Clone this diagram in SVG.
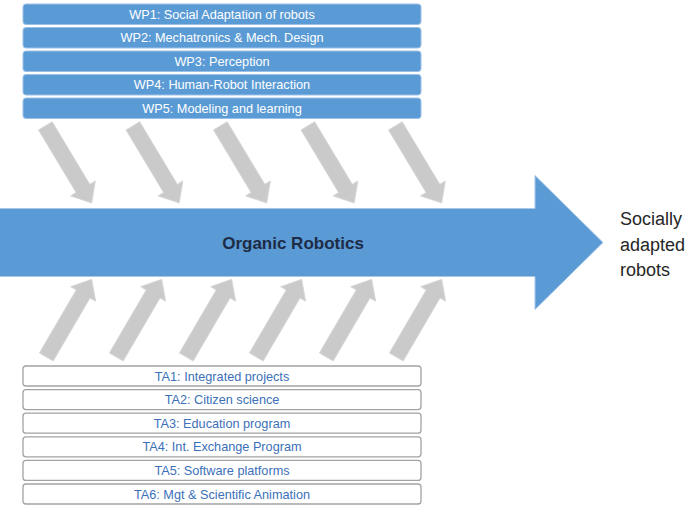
<svg xmlns="http://www.w3.org/2000/svg" xmlns:xlink="http://www.w3.org/1999/xlink" width="696" height="508" viewBox="0 0 696 508">
  <style>
    .wp rect { fill: #5b9bd5; stroke: #9cc0e6; stroke-width: 1; }
    .wp text { fill: #ffffff; font-family: "Liberation Sans", Arial, sans-serif; font-size: 12.7px; text-anchor: middle; }
    .ta rect { fill: #ffffff; stroke: #a3a3a3; stroke-width: 1.3; }
    .ta text { fill: #3b70b8; font-family: "Liberation Sans", Arial, sans-serif; font-size: 12.7px; text-anchor: middle; }
    .feed { fill: #cacaca; stroke: #d6d6d6; stroke-width: 0.8; }
    .main-label { fill: #1e2b45; font-family: "Liberation Sans", Arial, sans-serif; font-size: 17px; font-weight: bold; text-anchor: middle; }
    .outcome { fill: #262626; font-family: "Liberation Sans", Arial, sans-serif; font-size: 18px; }
  </style>
  <defs>
    <!-- block arrow, tip at the origin, pointing along +x -->
    <path id="fat-arrow" d="M-90,-8 H-17 V-14.5 L0,0 L-17,14.5 V8 H-90 Z"/>
  </defs>

  <rect width="696" height="508" fill="#ffffff"/>

  <!-- central arrow -->
  <g id="organic-robotics">
    <path d="M-2,208.5 H535 V175.5 L603,242.5 L535,309.5 V276.5 H-2 Z" fill="#5b9bd5" stroke="#a8c7e8" stroke-width="1"/>
    <text class="main-label" x="293" y="249">Organic Robotics</text>
  </g>

  <!-- outcome label -->
  <g id="socially-adapted-robots">
    <text class="outcome" x="620" y="225">Socially</text>
    <text class="outcome" x="620" y="251">adapted</text>
    <text class="outcome" x="620" y="276">robots</text>
  </g>

  <!-- work packages -->
  <g id="wp1" class="wp"><rect x="23" y="4" width="398" height="20.5" rx="3"/><text x="222" y="18.7">WP1: Social Adaptation of robots</text></g>
  <g id="wp2" class="wp"><rect x="23" y="27.5" width="398" height="20.5" rx="3"/><text x="222" y="42.2">WP2: Mechatronics &amp; Mech. Design</text></g>
  <g id="wp3" class="wp"><rect x="23" y="51" width="398" height="20.5" rx="3"/><text x="222" y="65.7">WP3: Perception</text></g>
  <g id="wp4" class="wp"><rect x="23" y="74.5" width="398" height="20.5" rx="3"/><text x="222" y="89.2">WP4: Human-Robot Interaction</text></g>
  <g id="wp5" class="wp"><rect x="23" y="98" width="398" height="20.5" rx="3"/><text x="222" y="112.7">WP5: Modeling and learning</text></g>

  <!-- transversal activities -->
  <g id="ta1" class="ta"><rect x="23" y="366" width="398" height="20" rx="3"/><text x="222" y="380.5">TA1: Integrated projects</text></g>
  <g id="ta2" class="ta"><rect x="23" y="389.6" width="398" height="20" rx="3"/><text x="222" y="404.1">TA2: Citizen science</text></g>
  <g id="ta3" class="ta"><rect x="23" y="413.2" width="398" height="20" rx="3"/><text x="222" y="427.7">TA3: Education program</text></g>
  <g id="ta4" class="ta"><rect x="23" y="436.8" width="398" height="20" rx="3"/><text x="222" y="451.3">TA4: Int. Exchange Program</text></g>
  <g id="ta5" class="ta"><rect x="23" y="460.4" width="398" height="20" rx="3"/><text x="222" y="474.9">TA5: Software platforms</text></g>
  <g id="ta6" class="ta"><rect x="23" y="484" width="398" height="20" rx="3"/><text x="222" y="498.5">TA6: Mgt &amp; Scientific Animation</text></g>

  <!-- feeding arrows into the central arrow -->
  <g id="connectors" class="feed">
    <use xlink:href="#fat-arrow" transform="translate(91.7,203) rotate(59)"/>
    <use xlink:href="#fat-arrow" transform="translate(179.2,203) rotate(59)"/>
    <use xlink:href="#fat-arrow" transform="translate(266.7,203) rotate(59)"/>
    <use xlink:href="#fat-arrow" transform="translate(354.2,203) rotate(59)"/>
    <use xlink:href="#fat-arrow" transform="translate(441.7,203) rotate(59)"/>

    <use xlink:href="#fat-arrow" transform="translate(91.7,279.3) rotate(-59.7)"/>
    <use xlink:href="#fat-arrow" transform="translate(161.7,279.3) rotate(-59.7)"/>
    <use xlink:href="#fat-arrow" transform="translate(231.7,279.3) rotate(-59.7)"/>
    <use xlink:href="#fat-arrow" transform="translate(301.7,279.3) rotate(-59.7)"/>
    <use xlink:href="#fat-arrow" transform="translate(371.7,279.3) rotate(-59.7)"/>
    <use xlink:href="#fat-arrow" transform="translate(441.7,279.3) rotate(-59.7)"/>
  </g>
</svg>
